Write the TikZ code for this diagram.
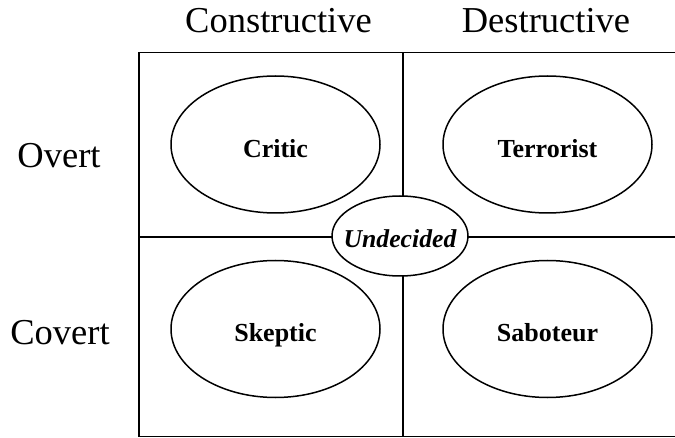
\documentclass[tikz,border=0pt]{standalone}
\usepackage{fontspec}
\setmainfont{Liberation Serif}
\usetikzlibrary{shapes.geometric}

\tikzset{
  axislabel/.style={anchor=base, inner sep=0pt, font=\fontsize{36.5}{40}\selectfont},
  role/.style={draw, ellipse, line width=1.5pt, minimum width=209pt, minimum height=137pt,
               inner sep=0pt},
  rolename/.style={anchor=base, inner sep=0pt, font=\fontsize{26}{30}\selectfont\bfseries},
  middle/.style={draw, ellipse, fill=white, line width=1.5pt, minimum width=136pt,
                 minimum height=80pt, inner sep=0pt},
  middlename/.style={anchor=base, inner sep=0pt, font=\fontsize{25.7}{30}\selectfont\bfseries\itshape},
  grid/.style={line width=1.8pt, line cap=rect}
}

\begin{document}
\begin{tikzpicture}[x=1pt, y=-1pt]
  \useasboundingbox (0,0) rectangle (675,438);

  % frame corners and dividers
  \coordinate (tl) at (139,52.5);
  \coordinate (bl) at (139,436.5);
  \coordinate (tr) at (676,52.5);
  \coordinate (br) at (676,436.5);
  \coordinate (vt) at (403,52.5);
  \coordinate (vb) at (403,436.5);
  \coordinate (hl) at (139,237);
  \coordinate (hr) at (676,237);

  \draw[grid] (tr) -- (tl) -- (bl) -- (br);
  \draw[grid] (vt) -- (vb);
  \draw[grid] (hl) -- (hr);

  % column and row headings
  \node[axislabel] (con) at (278.5,33) {Constructive};
  \node[axislabel] (des) at (546,33) {Destructive};
  \node[axislabel] (ovt) at (59,168) {Overt};
  \node[axislabel] (cov) at (60,345) {Covert};

  % quadrant roles
  \node[role] (critic) at (275.5,144.5) {};
  \node[role] (terror) at (547.5,144.5) {};
  \node[role] (skeptic) at (275.5,329) {};
  \node[role] (sabot) at (547.5,329) {};
  \node[rolename] (criticT) at (275.5,158) {Critic};
  \node[rolename] (terrorT) at (547.5,158) {Terrorist};
  \node[rolename] (skepticT) at (275.5,342) {Skeptic};
  \node[rolename] (sabotT) at (547.5,342) {Saboteur};

  % centre
  \node[middle] (undec) at (400,236) {};
  \node[middlename] (undecT) at (400,248) {Undecided};
\end{tikzpicture}
\end{document}
